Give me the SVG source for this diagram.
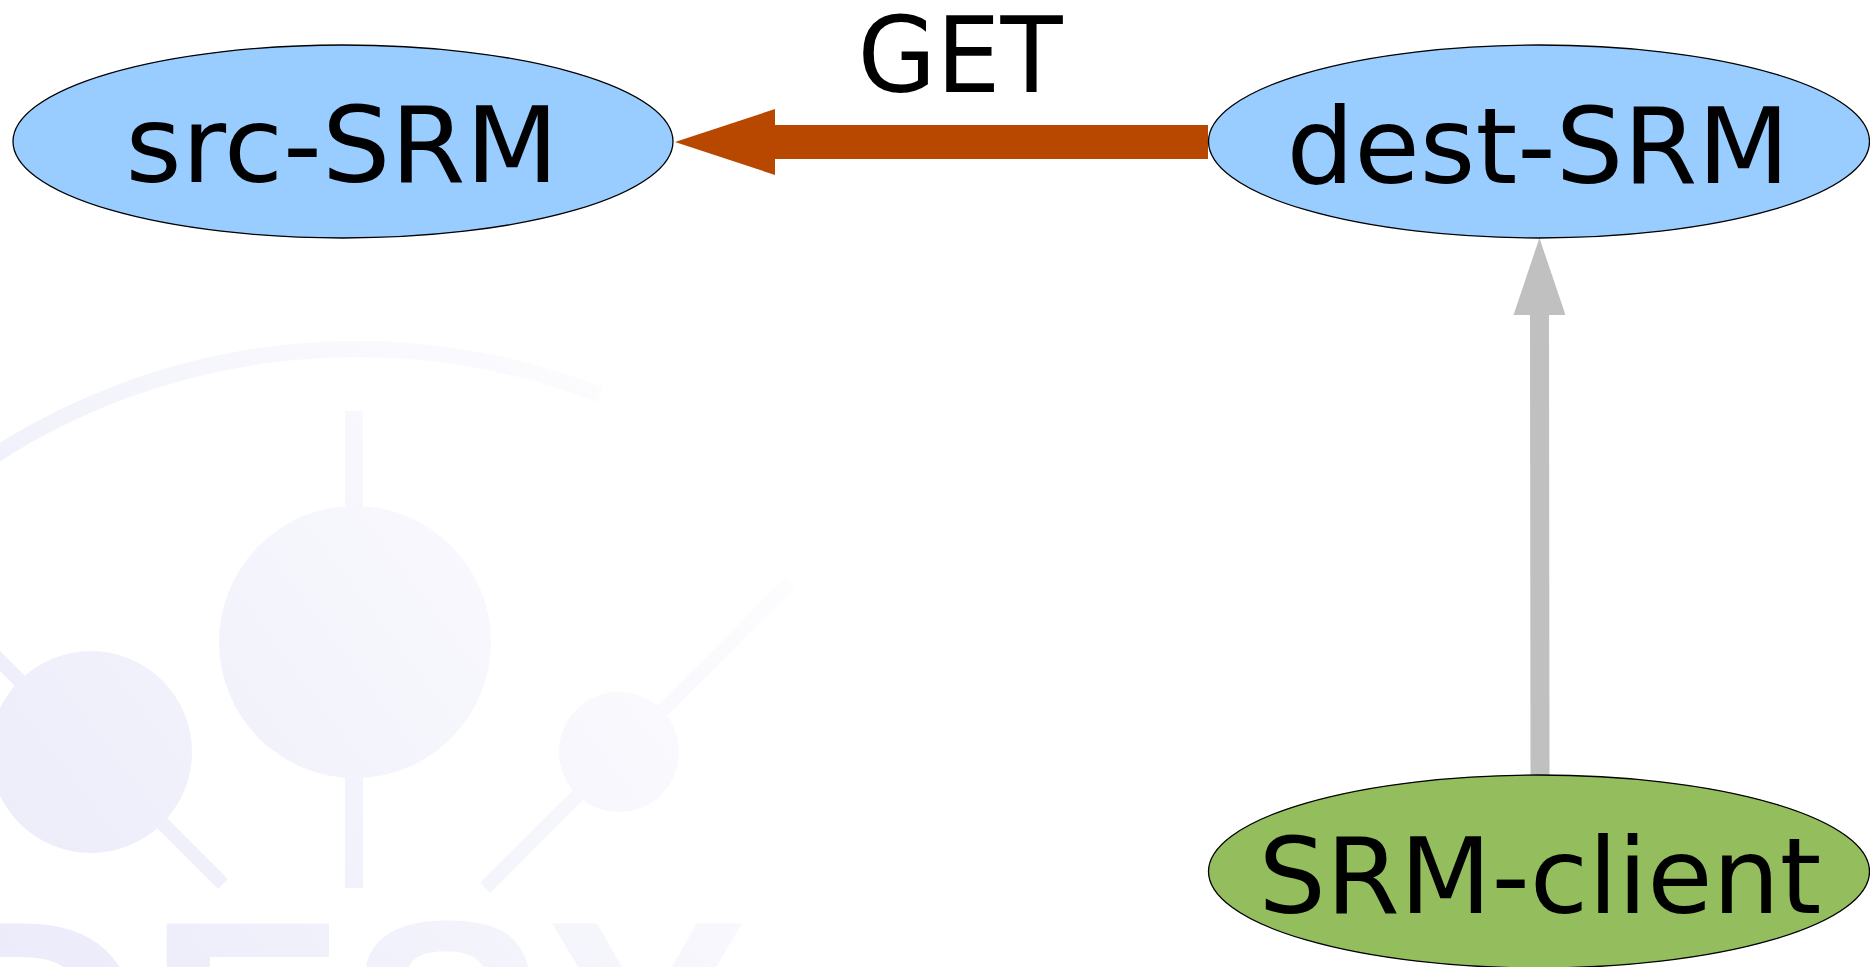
<svg xmlns="http://www.w3.org/2000/svg" width="1870" height="967" viewBox="0 0 1870 967">
<style>
.node ellipse{stroke:#000;stroke-width:1.3}
.lbl{font-family:"DejaVu Sans","Liberation Sans",sans-serif;font-size:105px;fill:#000;text-anchor:middle}
.wm{fill:url(#wmg)}
.wml{stroke:url(#wmg);fill:none}
</style>
<defs>
<linearGradient id="wmg" gradientUnits="userSpaceOnUse" x1="0" y1="967" x2="780" y2="380">
<stop offset="0" stop-color="#ebebfa"/>
<stop offset="0.45" stop-color="#f4f4fc"/>
<stop offset="0.75" stop-color="#fafafe"/>
<stop offset="1" stop-color="#ffffff"/>
</linearGradient>
<marker id="headGet" markerUnits="userSpaceOnUse" markerWidth="100" markerHeight="66" refX="0" refY="33" orient="auto">
<path d="M0,0 L100,33 L0,66 z" fill="#b84700"/>
</marker>
<marker id="headGray" markerUnits="userSpaceOnUse" markerWidth="77" markerHeight="52" refX="0" refY="26" orient="auto">
<path d="M0,0 L77,26 L0,52 z" fill="#c0c0c0"/>
</marker>
</defs>
<rect width="1870" height="967" fill="#ffffff"/>
<g id="watermark">
<path class="wml" d="M-20,465 A670,670 0 0 1 600,394.6" stroke-width="16"/>
<rect class="wm" x="345" y="411" width="18" height="477"/>
<circle class="wm" cx="355" cy="642" r="136"/>
<line class="wml" x1="-20" y1="641" x2="223" y2="884" stroke-width="14"/>
<circle class="wm" cx="91" cy="752" r="101"/>
<line class="wml" x1="485" y1="888" x2="790" y2="583" stroke-width="14"/>
<circle class="wm" cx="619" cy="752" r="60"/>
<text class="wm" x="-70" y="1130" style="font-family:'Liberation Sans',Arial,sans-serif;font-weight:bold;font-size:300px">DESY</text>
</g>
<g id="connectors">
<line x1="1208" y1="142" x2="775" y2="142" stroke="#b84700" stroke-width="34" marker-end="url(#headGet)"/>
<text class="lbl" x="960" y="92" textLength="205" lengthAdjust="spacingAndGlyphs">GET</text>
<line x1="1540" y1="776" x2="1539.5" y2="315" stroke="#c0c0c0" stroke-width="19" marker-end="url(#headGray)"/>
</g>
<g id="src-SRM" class="node">
<ellipse cx="343" cy="141.5" rx="330" ry="96.5" fill="#99ccff"/>
<text class="lbl" x="342" y="182" textLength="433" lengthAdjust="spacingAndGlyphs">src-SRM</text>
</g>
<g id="dest-SRM" class="node">
<ellipse cx="1539" cy="141.5" rx="330.5" ry="96.5" fill="#99ccff"/>
<text class="lbl" x="1538" y="183" textLength="503" lengthAdjust="spacingAndGlyphs">dest-SRM</text>
</g>
<g id="SRM-client" class="node">
<ellipse cx="1539" cy="871.5" rx="330.5" ry="96.5" fill="#94bd5e"/>
<text class="lbl" x="1540" y="913" textLength="563" lengthAdjust="spacingAndGlyphs">SRM-client</text>
</g>
</svg>
